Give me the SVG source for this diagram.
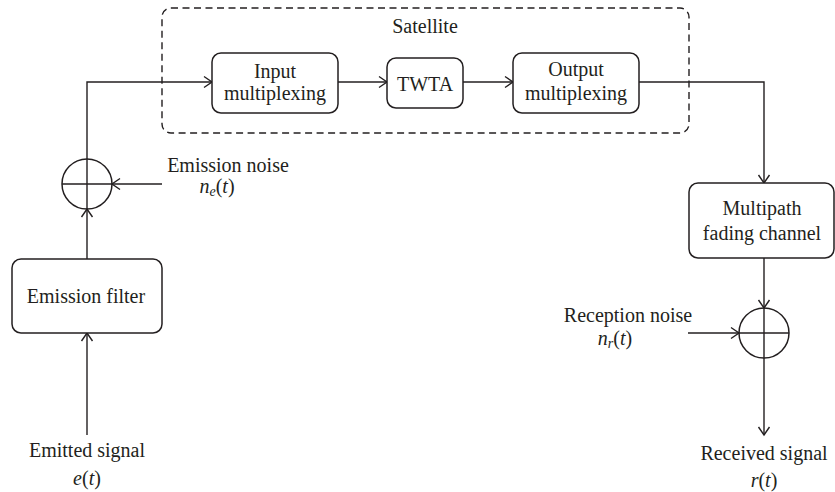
<svg xmlns="http://www.w3.org/2000/svg" width="835" height="492" viewBox="0 0 835 492">
<defs>
<marker id="arr" markerUnits="userSpaceOnUse" markerWidth="20" markerHeight="20" refX="10" refY="10" orient="auto" overflow="visible">
<path d="M2,4.5 L10,10 L2,15.5" fill="none" stroke="#231f20" stroke-width="1.4"/>
</marker>
<style>
.box{fill:#fff;stroke:#231f20;stroke-width:1.5}
.dash{fill:none;stroke:#231f20;stroke-width:1.4;stroke-dasharray:7,4.5}
.ln{fill:none;stroke:#231f20;stroke-width:1.4}
.c{fill:none;stroke:#231f20;stroke-width:1.5}
text{font-family:"Liberation Serif","Times New Roman",serif;font-size:20px;fill:#231f20;text-anchor:middle}
.i{font-style:italic}
.sub{font-size:14px;font-style:italic}
</style>
</defs>
<rect x="0" y="0" width="835" height="492" fill="#fff"/>
<g id="satellite">
<rect class="dash" x="162" y="8" width="527" height="125" rx="9"/>
<text x="425" y="33">Satellite</text>
</g>
<g id="connectors">
<path class="ln" d="M87,435 L87,333" marker-end="url(#arr)"/>
<path class="ln" d="M87,259 L87,209" marker-end="url(#arr)"/>
<path class="ln" d="M162,184 L112,184" marker-end="url(#arr)"/>
<path class="ln" d="M87,159 L87,82 L212,82" marker-end="url(#arr)"/>
<path class="ln" d="M338,82 L387,82" marker-end="url(#arr)"/>
<path class="ln" d="M463,82 L513,82" marker-end="url(#arr)"/>
<path class="ln" d="M639,82 L764,82 L764,183" marker-end="url(#arr)"/>
<path class="ln" d="M764,258 L764,308" marker-end="url(#arr)"/>
<path class="ln" d="M688,333 L739,333" marker-end="url(#arr)"/>
<path class="ln" d="M764,358 L764,435" marker-end="url(#arr)"/>
</g>
<g id="input-mux">
<rect class="box" x="212" y="53" width="126" height="60" rx="9"/>
<text x="275" y="78">Input</text>
<text x="275" y="100">multiplexing</text>
</g>
<g id="twta">
<rect class="box" x="387" y="58" width="76" height="50" rx="9"/>
<text x="425" y="91">TWTA</text>
</g>
<g id="output-mux">
<rect class="box" x="513" y="53" width="126" height="60" rx="9"/>
<text x="576" y="76">Output</text>
<text x="576" y="100">multiplexing</text>
</g>
<g id="multipath">
<rect class="box" x="689" y="183" width="145" height="75" rx="9"/>
<text x="762" y="215">Multipath</text>
<text x="762" y="240">fading channel</text>
</g>
<g id="emission-filter">
<rect class="box" x="12" y="259" width="150" height="74" rx="9"/>
<text x="86" y="303">Emission filter</text>
</g>
<g id="sum-emission">
<circle class="c" cx="87" cy="184" r="25"/>
<path class="ln" d="M62,184 L112,184 M87,159 L87,209"/>
</g>
<g id="sum-reception">
<circle class="c" cx="764" cy="333" r="25"/>
<path class="ln" d="M739,333 L789,333 M764,308 L764,358"/>
</g>
<g id="emission-noise">
<text x="228" y="172">Emission noise</text>
<text x="217" y="193"><tspan class="i">n</tspan><tspan class="sub" dy="3">e</tspan><tspan dy="-3">(</tspan><tspan class="i">t</tspan>)</text>
</g>
<g id="reception-noise">
<text x="628" y="322">Reception noise</text>
<text x="615" y="345"><tspan class="i">n</tspan><tspan class="sub" dy="3">r</tspan><tspan dy="-3">(</tspan><tspan class="i">t</tspan>)</text>
</g>
<g id="emitted-signal">
<text x="87" y="457">Emitted signal</text>
<text x="87" y="485"><tspan class="i">e</tspan>(<tspan class="i">t</tspan>)</text>
</g>
<g id="received-signal">
<text x="764" y="460">Received signal</text>
<text x="764" y="487"><tspan class="i">r</tspan>(<tspan class="i">t</tspan>)</text>
</g>
</svg>
